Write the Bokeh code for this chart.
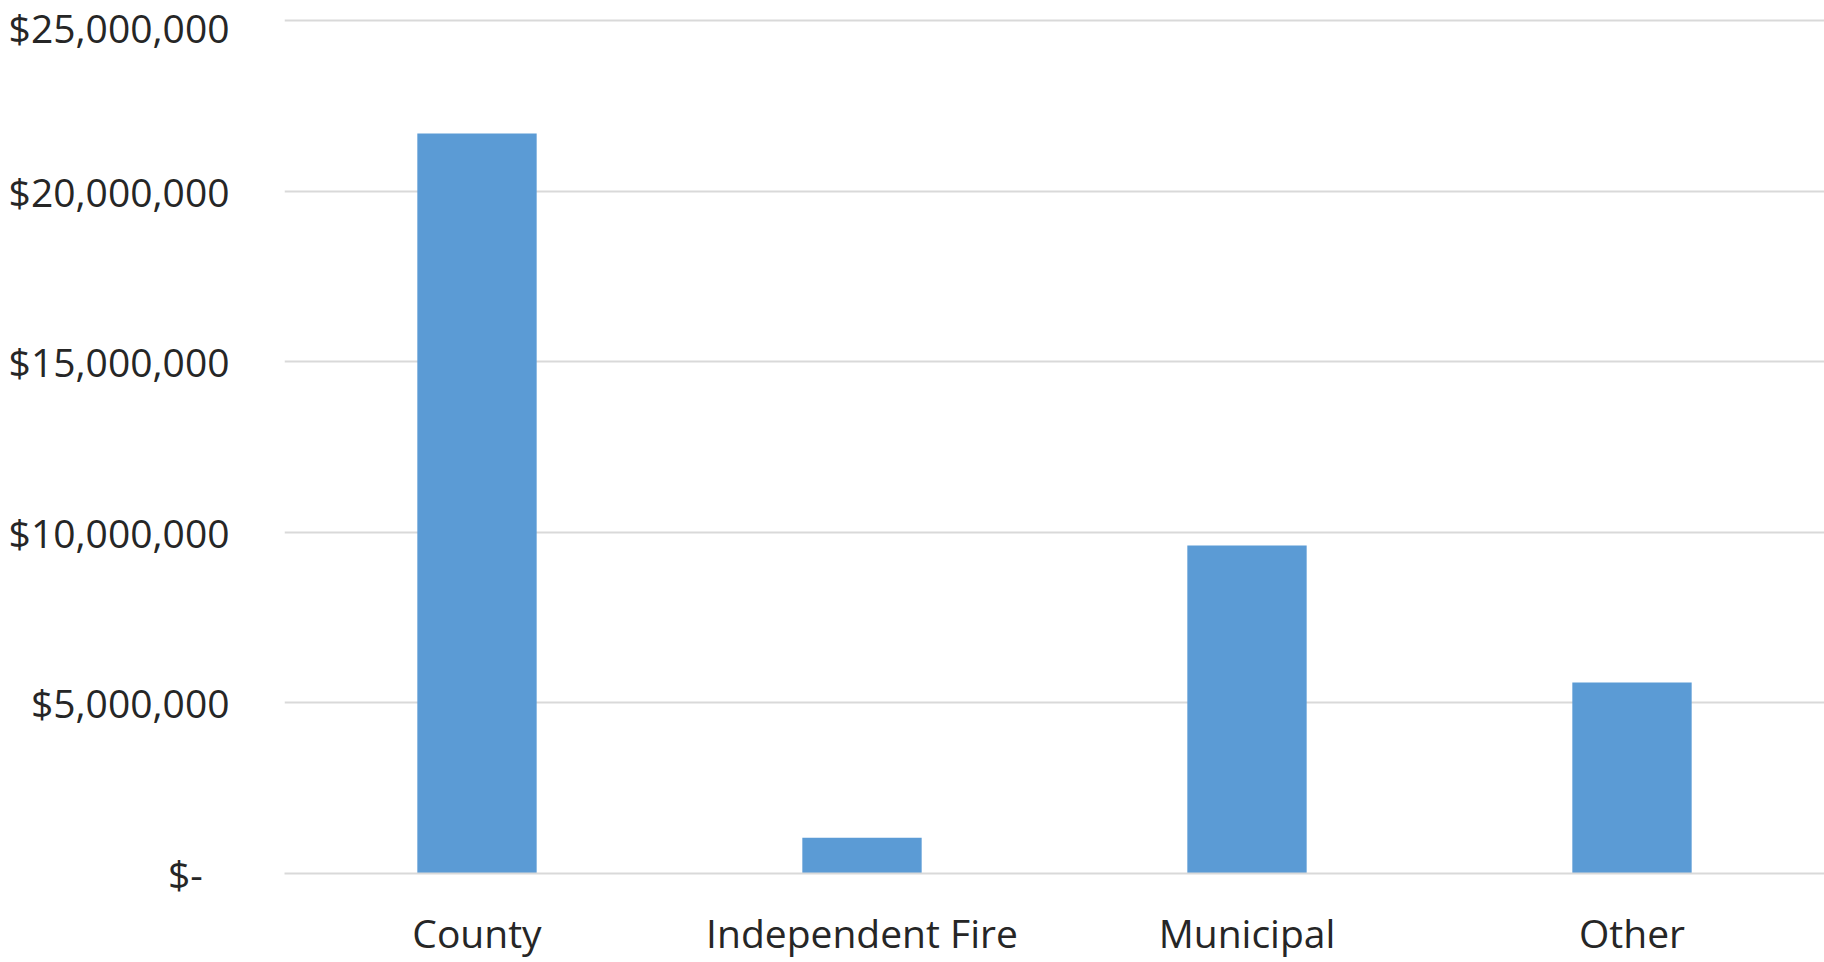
from bokeh.plotting import figure
from bokeh.models import ColumnDataSource, Range1d, FactorRange, NumeralTickFormatter, FixedTicker
from bokeh.embed import file_html
from bokeh.resources import INLINE

# Funding by agency type
categories = ["County", "Independent Fire", "Municipal", "Other"]
amounts = [21700000, 1050000, 9620000, 5600000]
y_ticks = [0, 5000000, 10000000, 15000000, 20000000, 25000000]

FONT = "Open Sans"
TEXT_COLOR = "#262626"
BAR_COLOR = "#5B9BD5"
GRID_COLOR = "#D9D9D9"

source = ColumnDataSource(data=dict(category=categories, amount=amounts))

p = figure(
    width=1824,
    height=962,
    x_range=FactorRange(*categories, range_padding=0),
    y_range=Range1d(0, 25070000),
    output_backend="svg",
    toolbar_location=None,
    min_border_left=284,
    min_border_right=0,
    min_border_top=18,
    min_border_bottom=89,
)

p.vbar(x="category", top="amount", width=0.31, source=source,
       fill_color=BAR_COLOR, line_color=None)

p.outline_line_color = None
p.background_fill_color = "white"
p.border_fill_color = "white"

# Horizontal gridlines only
p.xgrid.grid_line_color = None
p.ygrid.grid_line_color = GRID_COLOR
p.ygrid.grid_line_width = 2

# Y axis: currency labels, no line or ticks
p.yaxis.ticker = FixedTicker(ticks=y_ticks)
p.yaxis.formatter = NumeralTickFormatter(format="$0,0")
p.yaxis.major_label_overrides = {0: "$-\u00a0\u00a0\u2009"}
p.yaxis.axis_line_color = None
p.yaxis.major_tick_line_color = None
p.yaxis.minor_tick_line_color = None
p.yaxis.major_tick_out = 0
p.yaxis.major_tick_in = 0
p.yaxis.major_label_standoff = 55
p.yaxis.major_label_text_font = FONT
p.yaxis.major_label_text_font_size = "39px"
p.yaxis.major_label_text_color = TEXT_COLOR

# X axis: category names
p.xaxis.axis_line_color = GRID_COLOR
p.xaxis.axis_line_width = 2
p.xaxis.major_tick_line_color = None
p.xaxis.minor_tick_line_color = None
p.xaxis.major_tick_out = 0
p.xaxis.major_tick_in = 0
p.xaxis.major_label_standoff = 32
p.xaxis.major_label_text_font = FONT
p.xaxis.major_label_text_font_size = "39px"
p.xaxis.major_label_text_color = TEXT_COLOR

open("out.html", "w").write(file_html(p, INLINE))
